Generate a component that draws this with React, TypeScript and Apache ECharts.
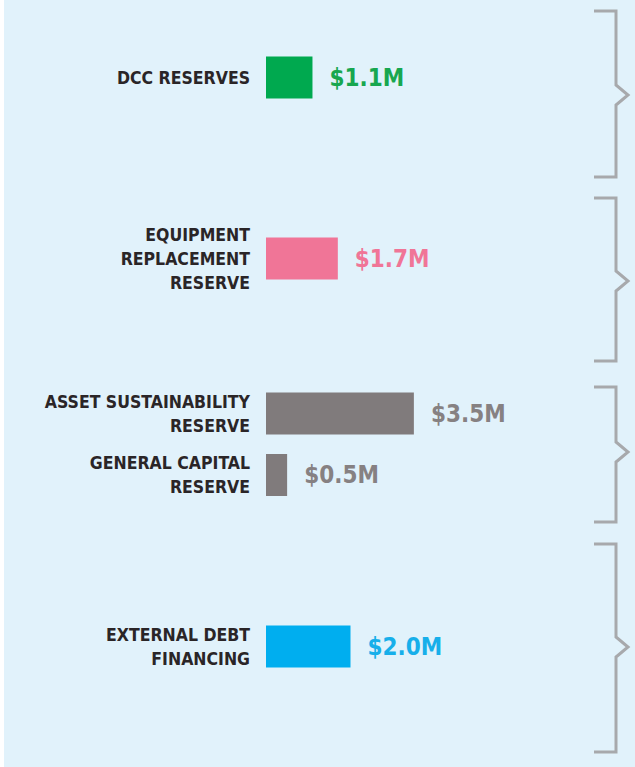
import React, { useEffect, useRef } from "react";
import * as echarts from "echarts";

// Data
const group1Labels = ["DCC RESERVES"];
const group1Values = [1.1];
const group2Labels = ["EQUIPMENT\nREPLACEMENT\nRESERVE"];
const group2Values = [1.7];
const group3Labels = ["ASSET SUSTAINABILITY\nRESERVE", "GENERAL CAPITAL\nRESERVE"];
const group3Values = [3.5, 0.5];
const group4Labels = ["EXTERNAL DEBT\nFINANCING"];
const group4Values = [2.0];

const groupColors = ["#00a94f", "#f07597", "#807b7c", "#00aeef"];
const labelColors = ["#17a74f", "#f07597", "#868182", "#17afea"];

const groups = [
  { labels: group1Labels, values: group1Values, top: 47.5, height: 60 },
  { labels: group2Labels, values: group2Values, top: 228.5, height: 60 },
  { labels: group3Labels, values: group3Values, top: 382.75, height: 123 },
  { labels: group4Labels, values: group4Values, top: 616.5, height: 60 },
];

// bracket geometry (decoration): [top, tip, bottom]
const brackets = [
  [11, 95, 177],
  [198, 281, 361],
  [387, 452, 522],
  [544, 647, 752],
];

const LABEL_FONT = "'Liberation Sans Narrow', 'DejaVu Sans Condensed', sans-serif";
const VALUE_FONT = "'DejaVu Sans Condensed', 'Liberation Sans Narrow', sans-serif";

export default function App() {
  const ref = useRef<HTMLDivElement>(null);
  useEffect(() => {
    if (!ref.current) return;
    const chart = echarts.init(ref.current, null, { renderer: "svg" });
    const grid: any[] = [];
    const xAxis: any[] = [];
    const yAxis: any[] = [];
    const series: any[] = [];
    groups.forEach((g, i) => {
      grid.push({ left: 266, width: 338, top: g.top, height: g.height });
      xAxis.push({
        type: "value",
        gridIndex: i,
        min: 0,
        max: 8,
        show: false,
      });
      yAxis.push({
        type: "category",
        gridIndex: i,
        inverse: true,
        data: g.labels,
        axisLine: { show: false },
        axisTick: { show: false },
        splitLine: { show: false },
        axisLabel: {
          margin: 16,
          color: "#2a2527",
          fontFamily: LABEL_FONT,
          fontWeight: "bold",
          fontSize: 17.5,
          lineHeight: 24,
          align: "right",
        },
      });
      series.push({
        type: "bar",
        xAxisIndex: i,
        yAxisIndex: i,
        data: g.values,
        barWidth: 42,
        itemStyle: { color: groupColors[i] },
        label: {
          show: true,
          position: "right",
          distance: 17,
          color: labelColors[i],
          fontFamily: VALUE_FONT,
          fontWeight: "bold",
          fontSize: 24,
          formatter: (p: any) => "$" + Number(p.value).toFixed(1) + "M",
        },
      });
    });

    const graphic: any[] = [
      {
        type: "rect",
        shape: { x: 0, y: 0, width: 4, height: 767 },
        style: { fill: "#ffffff" },
      },
    ];
    brackets.forEach(([t, tip, b]) => {
      graphic.push({
        type: "polyline",
        shape: {
          points: [
            [594, t],
            [616, t],
            [616, tip - 10],
            [628, tip],
            [616, tip + 10],
            [616, b],
            [594, b],
          ],
        },
        style: { stroke: "#a7a9ac", lineWidth: 3, fill: null },
      });
    });

    chart.setOption({
      animation: false,
      backgroundColor: "#e1f2fb",
      grid,
      xAxis,
      yAxis,
      series,
      graphic,
    });
    return () => chart.dispose();
  }, []);
  return (
    <div
      ref={ref}
      style={{ position: "absolute", left: 0, top: 0, width: 635, height: 767 }}
    />
  );
}
